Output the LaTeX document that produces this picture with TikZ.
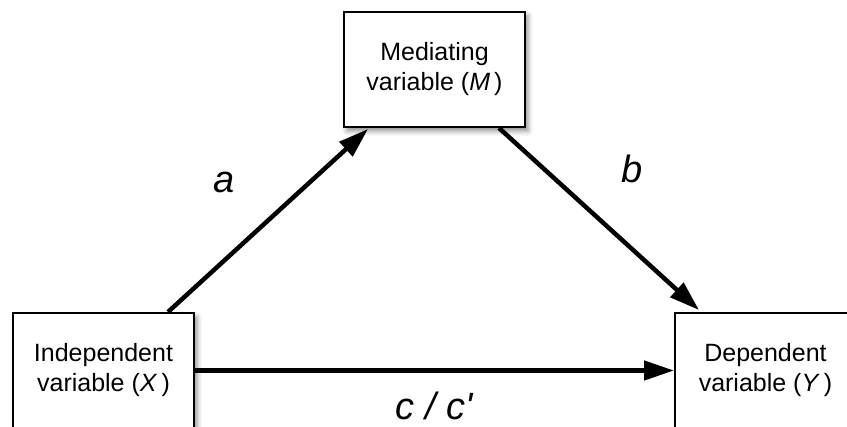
\documentclass[tikz,border=0pt]{standalone}
\usepackage{fontspec}
\setmainfont{Liberation Sans}
\usetikzlibrary{arrows.meta,shadows.blur,calc}
\begin{document}
\begin{tikzpicture}[x=1pt,y=-1pt,
  varbox/.style={draw=black,line width=2pt,fill=white,minimum width=181pt,minimum height=115pt,
    align=center,inner sep=0pt,font=\fontsize{25}{30}\selectfont,
    blur shadow={shadow xshift=3pt,shadow yshift=-4pt,shadow blur radius=5pt,shadow opacity=45}},
  conn/.style={line width=4.5pt,-{Triangle[length=30pt,width=19pt]}},
  lab/.style={font=\fontsize{38}{40}\selectfont\itshape,inner sep=0pt,anchor=base}]
\useasboundingbox (0,0) rectangle (847,427);
\clip (0,0) rectangle (847,427);
\node[varbox] (M) at (434.5,69.5) {Mediating\\variable (\textit{M}\,)};
\node[varbox] (X) at (103.5,370.5) {Independent\\variable (\textit{X}\,)};
\node[varbox] (Y) at (765.5,370.5) {Dependent\\variable (\textit{Y}\,)};
\draw[conn] ($(X.north east)+(-27,0)$) -- ($(M.south west)+(25,1)$);
\draw[conn] ($(M.south east)+(-27,0)$) -- ($(Y.north west)+(25,-2)$);
\draw[conn] (X.east) -- (Y.west);
\node[lab] (la) at (224,193) {a};
\node[lab] (lb) at (632,183) {b};
\node[lab] (lc) at (434,420) {c / c\textquotesingle};
\end{tikzpicture}
\end{document}
